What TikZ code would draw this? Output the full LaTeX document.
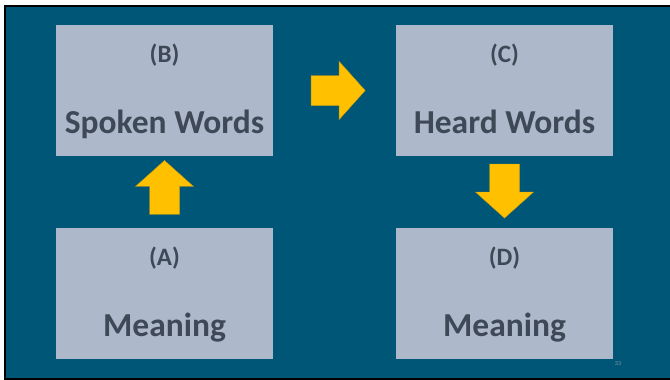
\documentclass[tikz,border=0pt]{standalone}
\usepackage{fontspec}
\setmainfont{Carlito}
\usetikzlibrary{calc}
\definecolor{slide}{HTML}{005677}
\definecolor{boxfill}{HTML}{ADB9CA}
\definecolor{boxtext}{HTML}{3E4856}
\definecolor{arrfill}{HTML}{FFC000}
\definecolor{arrline}{HTML}{C79A12}
\definecolor{numgray}{HTML}{8796A6}
\newcommand\boxw{217pt}
\newcommand\boxh{131pt}
\newcommand\arrl{54pt}
\newcommand\arrhl{26pt}
\newcommand\arrhw{58pt}
\newcommand\arrsw{30pt}
\tikzset{
  panel/.style={fill=boxfill,minimum width=\boxw,minimum height=\boxh,inner sep=0pt},
  tag/.style={anchor=base,text=boxtext,font=\fontsize{25}{30}\selectfont\bfseries},
  title/.style={anchor=base,text=boxtext,font=\fontsize{33.5}{40}\selectfont\bfseries},
  blockarr/.style={fill=arrfill,draw=arrline,line width=0.4pt},
  pagenum/.style={text=numgray,font=\fontsize{6}{7}\selectfont}
}
% block arrow centred at #1, turned by #2
\newcommand\blockarrow[2]{%
  \begin{scope}[shift={#1},rotate=#2]
    \draw[blockarr] ({-0.5*\arrl},{-0.5*\arrsw}) -- ++({\arrl-\arrhl},0pt) -- ++(0pt,{0.5*\arrsw-0.5*\arrhw})
      -- ({0.5*\arrl},0pt) -- ({0.5*\arrl-\arrhl},{0.5*\arrhw}) -- ++(0pt,{0.5*\arrsw-0.5*\arrhw})
      -- ({-0.5*\arrl},{0.5*\arrsw}) -- cycle;
  \end{scope}}

\begin{document}
\begin{tikzpicture}[x=1pt,y=-1pt]
    \useasboundingbox (0,0) rectangle (670,380);
    \fill[white] (0,0) rectangle (670,380);
    \fill[slide] (6,7) rectangle (670,378);
    \draw[line width=2pt] (670,6) -- (5,6) -- (5,379) -- (670,379);

    \begin{scope}
      \node[panel] (b) at (164.5,90.5) {};
      \node[panel] (a) at (164.5,293) {};
      \node[panel] (c) at (504.5,90.5) {};
      \node[panel] (d) at (504.5,293) {};

      \node[tag] (btag) at ($(b.north)+(0,38)$) {(B)};
      \node[title] (btitle) at ($(b.north)+(0,109)$) {Spoken Words};
      \node[tag] (atag) at ($(a.north)+(0,38)$) {(A)};
      \node[title] (atitle) at ($(a.north)+(0,109)$) {Meaning};
      \node[tag] (ctag) at ($(c.north)+(0,38)$) {(C)};
      \node[title] (ctitle) at ($(c.north)+(0,109)$) {Heard Words};
      \node[tag] (dtag) at ($(d.north)+(0,38)$) {(D)};
      \node[title] (dtitle) at ($(d.north)+(0,109)$) {Meaning};
    \end{scope}

    \blockarrow{($(a.north)!0.56!(b.south)$)}{90}
    \blockarrow{($(b.east)!0.53!(c.west)$)}{0}
    \blockarrow{($(c.south)!0.49!(d.north)$)}{-90}

    \node[pagenum] (pg) at (618,364) {33};
  \end{tikzpicture}
\end{document}
